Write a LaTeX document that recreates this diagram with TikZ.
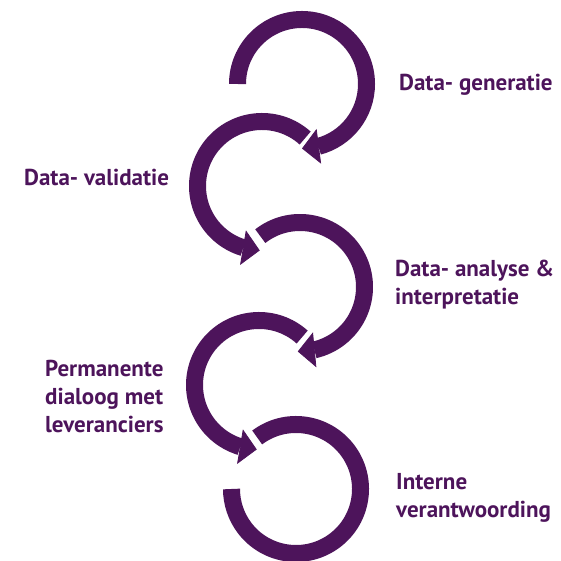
\documentclass[tikz,border=0pt]{standalone}
\usepackage{fontspec}
\setmainfont{PT Sans}
\usetikzlibrary{arrows.meta, bending}
\definecolor{paars}{RGB}{77,20,91}
\newcommand{\straal}{64.5}
\tikzstyle{ring} = [line width=17pt, draw=paars]
\tikzstyle{pijl} = [ring, -{Triangle[width=35pt,length=17pt,line width=0.8pt,flex]}]
\tikzstyle{stap} = [anchor=base west, inner sep=0pt, text=paars, align=left, font=\bfseries\fontsize{23}{28}\selectfont]

\begin{document}
\begin{tikzpicture}[x=1pt,y=1pt]
    \useasboundingbox (0,0) rectangle (561,561);
    \coordinate (c1) at (302,477);
    \coordinate (c2) at (262,375);
    \coordinate (c3) at (300,274);
    \coordinate (c4) at (259,176);
    \coordinate (c5) at (296,72);

    \draw [pijl] ([shift={(180:\straal)}]c1) arc[start angle=180, end angle=-90, radius=\straal pt];
    \draw [pijl] ([shift={(48:\straal)}]c2) arc[start angle=48, end angle=268, radius=\straal pt];
    \draw [pijl] ([shift={(128:\straal)}]c3) arc[start angle=128, end angle=-92, radius=\straal pt];
    \draw [pijl] ([shift={(48:\straal)}]c4) arc[start angle=48, end angle=268, radius=\straal pt];
    \draw [ring] ([shift={(127:\straal)}]c5) arc[start angle=127, end angle=-180, radius=\straal pt];

    \node (generatie) [stap] at (399,470) {Data- generatie};
    \node (validatie) [stap] at (24,375) {Data- validatie};
    \node (analyse) [stap] at (395,256) {Data- analyse \&\\interpretatie};
    \node (dialoog) [stap] at (45,128) {Permanente\\dialoog met\\leveranciers};
    \node (verantwoording) [stap] at (396,43) {Interne\\verantwoording};
\end{tikzpicture}
\end{document}
